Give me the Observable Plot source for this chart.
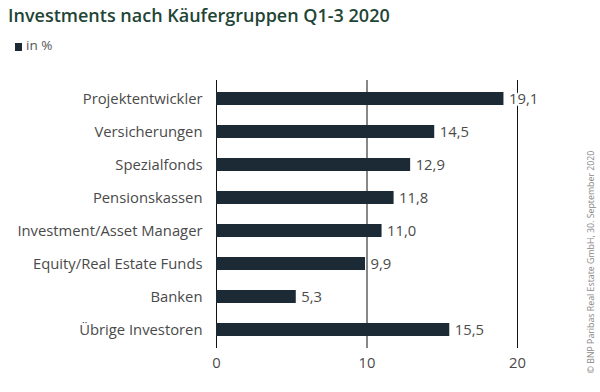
<!DOCTYPE html>
<html>
<head>
<meta charset="utf-8">
<script src="https://cdn.jsdelivr.net/npm/d3@7"></script>
<script src="https://cdn.jsdelivr.net/npm/@observablehq/plot@0.6"></script>
<style>
  html, body { margin: 0; padding: 0; background: #fff; }
  #wrap { position: relative; width: 600px; height: 392px; overflow: hidden; font-family: "Open Sans", sans-serif; }
  #head { height: 60px; position: relative; }
  #title { position: absolute; left: 8px; top: 3px; font-size: 18px; font-weight: 600; color: #1f4536; letter-spacing: 0; white-space: nowrap; }
  #sub { position: absolute; left: 15px; top: 36px; font-size: 13.5px; color: #555; white-space: nowrap; }
  #sub .sq { display: inline-block; width: 7px; height: 8px; background: #1c2a35; margin-right: 4px; vertical-align: -1px; }
  #copy { position: absolute; left: 591px; top: 262px; transform: translate(-50%, -50%) rotate(-90deg); font-size: 8.8px; color: #888; white-space: nowrap; }
  #chart svg { display: block; }
</style>
</head>
<body>
<div id="wrap">
  <div id="head">
    <div id="title">Investments nach Käufergruppen Q1-3 2020</div>
    <div id="sub"><span class="sq"></span>in %</div>
  </div>
  <div id="chart"></div>
  <div id="copy">© BNP Paribas Real Estate GmbH, 30. September 2020</div>
</div>
<script>
const categories = ["Projektentwickler", "Versicherungen", "Spezialfonds", "Pensionskassen", "Investment/Asset Manager", "Equity/Real Estate Funds", "Banken", "Übrige Investoren"];
const values = [19.1, 14.5, 12.9, 11.8, 11.0, 9.9, 5.3, 15.5];
const xTicks = [0, 10, 20];

const data = categories.map((c, i) => ({category: c, value: values[i]}));

const chart = Plot.plot({
  width: 600,
  height: 332,
  marginLeft: 216,
  marginRight: 83,
  marginTop: 20,
  marginBottom: 44,
  style: {fontFamily: "'Open Sans', sans-serif", fontSize: "14.8px", color: "#4a4a4a", background: "white"},
  x: {domain: [0, 20], ticks: xTicks, tickSize: 0, tickPadding: 9, label: null, tickFormat: d => String(d)},
  y: {domain: categories, paddingInner: 0.6, paddingOuter: 0.28, label: null, tickSize: 0, tickPadding: 14},
  marks: [
    Plot.ruleX(xTicks, {stroke: "#111", strokeWidth: 1}),
    Plot.barX(data, {x: "value", y: "category", fill: "#1c2a35"}),
    Plot.text(data, {
      x: "value", y: "category",
      text: d => d.value.toFixed(1).replace(".", ","),
      dx: 5, textAnchor: "start", fill: "#4a4a4a",
      stroke: "white", strokeWidth: 5, paintOrder: "stroke"
    })
  ]
});
document.getElementById("chart").appendChild(chart);
</script>
</body>
</html>
